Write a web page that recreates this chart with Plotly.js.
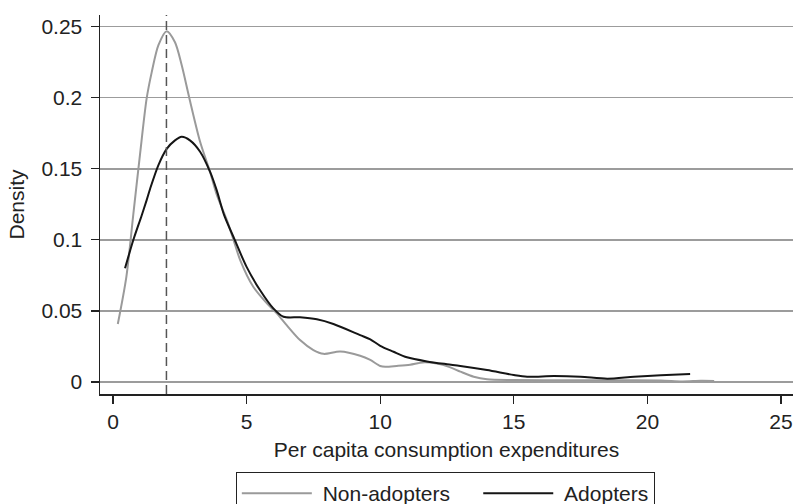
<!DOCTYPE html>
<html>
<head>
<meta charset="utf-8">
<script src="https://cdn.plot.ly/plotly-3.0.1.min.js"></script>
<style>html,body{margin:0;padding:0;background:#fff;}#chart{width:793px;height:504px;}</style>
</head>
<body>
<div id="chart"></div>
<script>
// Non-adopters kernel density
const nonAdoptersX = [0.18, 0.5, 0.76, 1.01, 1.26, 1.45, 1.70, 2.01, 2.32, 2.57, 2.86, 3.26, 3.63, 3.88, 4.26, 4.51, 4.76, 5.25, 5.76, 6.13, 6.5, 7.0, 7.5, 7.88, 8.5, 9.25, 9.63, 10.0, 10.19, 10.62, 11.12, 11.6, 12.12, 12.6, 13.0, 13.5, 14.0, 15.0, 17.1, 19.0, 20.5, 21.3, 22.0, 22.5];
const nonAdoptersY = [0.0408, 0.074, 0.118, 0.160, 0.1995, 0.218, 0.237, 0.2468, 0.239, 0.223, 0.1995, 0.169, 0.148, 0.132, 0.114, 0.100, 0.0858, 0.067, 0.0553, 0.0483, 0.040, 0.0295, 0.0225, 0.0198, 0.0215, 0.0185, 0.0155, 0.0113, 0.0107, 0.0113, 0.0122, 0.0138, 0.013, 0.0105, 0.0073, 0.0037, 0.0019, 0.0014, 0.0012, 0.0012, 0.0011, 0.0004, 0.0008, 0.0007];

// Adopters kernel density
const adoptersX = [0.45, 0.76, 1.07, 1.26, 1.39, 1.70, 2.01, 2.32, 2.57, 2.88, 3.26, 3.63, 3.88, 4.16, 4.51, 5.0, 5.5, 6.0, 6.38, 7.0, 7.63, 8.25, 9.25, 9.63, 10.0, 10.5, 11.0, 11.75, 12.5, 13.0, 14.0, 15.0, 15.5, 16.5, 17.5, 18.5, 19.5, 20.5, 21.6];
const adoptersY = [0.080, 0.0999, 0.117, 0.128, 0.136, 0.1526, 0.164, 0.170, 0.1725, 0.170, 0.162, 0.148, 0.135, 0.1174, 0.102, 0.081, 0.0647, 0.0518, 0.0459, 0.0455, 0.0441, 0.0408, 0.033, 0.030, 0.0255, 0.0213, 0.0174, 0.0145, 0.0125, 0.0113, 0.0084, 0.0049, 0.0037, 0.0042, 0.0037, 0.0023, 0.0037, 0.0047, 0.0056];

const seriesNames = ["Non-adopters", "Adopters"];
const markerX = 2; // dashed reference line
const xTicks = [0, 5, 10, 15, 20, 25];
const yTicks = [0, 0.05, 0.1, 0.15, 0.2, 0.25];
const yTickText = ["0", "0.05", "0.1", "0.15", "0.2", "0.25"];

const FONT = '"Liberation Sans", Arial, Helvetica, sans-serif';
const NB = '\u00A0';

const traces = [
  {x: nonAdoptersX, y: nonAdoptersY, name: NB + seriesNames[0] + NB + NB + NB + NB, mode: 'lines',
   line: {color: '#9a9a9a', width: 2, shape: 'spline', smoothing: 0.8}},
  {x: adoptersX, y: adoptersY, name: NB + seriesNames[1], mode: 'lines',
   line: {color: '#151515', width: 2, shape: 'spline', smoothing: 0.8}}
];

const layout = {
  width: 793, height: 504,
  margin: {l: 100, r: 0, t: 15, b: 110, autoexpand: false},
  paper_bgcolor: '#fff', plot_bgcolor: '#fff',
  font: {family: FONT, size: 21, color: '#222'},
  showlegend: true,
  legend: {
    orientation: 'h', x: 0.196, xanchor: 'left', y: -0.2058, yanchor: 'top',
    bordercolor: '#222', borderwidth: 1, bgcolor: '#fff',
    font: {family: FONT, size: 21, color: '#222'},
    itemwidth: 70, traceorder: 'normal'
  },
  xaxis: {
    range: [-0.4865, 25.45], tickvals: xTicks, ticktext: xTicks.map(String),
    showgrid: false, zeroline: false, showline: true, linecolor: '#222', linewidth: 1.5,
    ticks: 'outside', ticklen: 8, tickwidth: 1.2, tickcolor: '#222',
    tickfont: {family: FONT, size: 21, color: '#222'},
    title: {text: 'Per capita consumption expenditures', font: {family: FONT, size: 21, color: '#222'}, standoff: 10},
    fixedrange: true
  },
  yaxis: {
    range: [-0.00844, 0.2582], tickvals: yTicks, ticktext: yTickText,
    showgrid: true, gridcolor: '#9c9c9c', gridwidth: 1.5, zeroline: false,
    showline: true, linecolor: '#222', linewidth: 1.5,
    ticks: 'outside', ticklen: 8, tickwidth: 1.2, tickcolor: '#222',
    ticklabelstandoff: 4,
    tickfont: {family: FONT, size: 21, color: '#222'},
    title: {text: 'Density', font: {family: FONT, size: 21, color: '#222'}, standoff: 11},
    fixedrange: true
  },
  shapes: [{
    type: 'line', xref: 'x', yref: 'paper', x0: markerX, x1: markerX, y0: 0, y1: 1,
    line: {color: '#555', width: 1.5, dash: '9px,5px'}, layer: 'above'
  }]
};

Plotly.newPlot('chart', traces, layout, {displayModeBar: false, staticPlot: true});
</script>
</body>
</html>
